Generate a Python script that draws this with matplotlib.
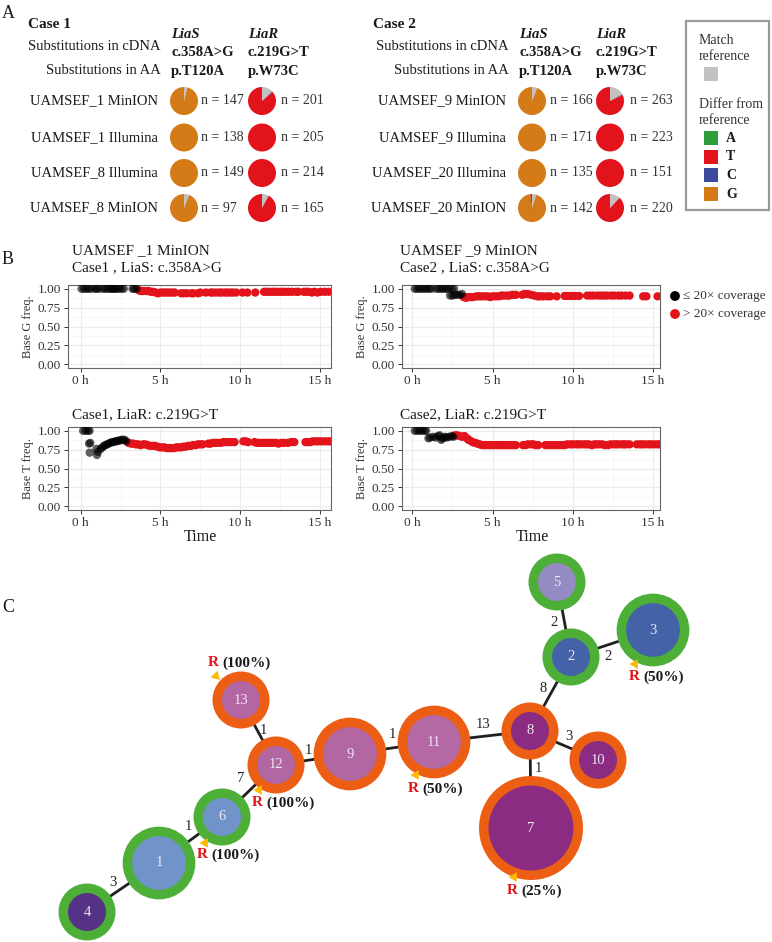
import matplotlib.pyplot as plt
from matplotlib.patches import Circle, Rectangle
import numpy as np

plt.rcParams['font.family'] = ['Liberation Serif', 'DejaVu Serif']

W, H = 772, 942

# ---------------- panel A data ----------------
base_order = ["Match reference", "A", "C", "G", "T"]
base_colors = {"Match reference": "#C4C2C0", "A": "#2E9E3A", "C": "#3D4A9A",
               "G": "#D47A16", "T": "#E3131B"}

case1_samples = ["UAMSEF_1 MinION", "UAMSEF_1 Illumina", "UAMSEF_8 Illumina", "UAMSEF_8 MinION"]
case1_lias = [[0.04, 0, 0, 0.96, 0], [0, 0, 0, 1, 0], [0, 0, 0, 1, 0], [0.06, 0, 0, 0.94, 0]]
case1_liar = [[0.13, 0, 0.01, 0, 0.86], [0, 0, 0, 0, 1], [0, 0, 0, 0, 1], [0.08, 0, 0, 0, 0.92]]
case1_lias_n = [147, 138, 149, 97]
case1_liar_n = [201, 205, 214, 165]

case2_samples = ["UAMSEF_9 MinION", "UAMSEF_9 Illumina", "UAMSEF_20 Illumina", "UAMSEF_20 MinION"]
case2_lias = [[0.06, 0, 0, 0.94, 0], [0, 0, 0, 1, 0], [0, 0, 0, 1, 0], [0.05, 0, 0, 0.93, 0.02]]
case2_liar = [[0.17, 0, 0.01, 0, 0.82], [0, 0, 0, 0, 1], [0, 0, 0, 0, 1], [0.12, 0, 0, 0, 0.88]]
case2_lias_n = [166, 171, 135, 142]
case2_liar_n = [263, 223, 151, 220]

# ---------------- panel B data ----------------
# Case 1, LiaS (UAMSEF_1 MinION)
c1s_low_t = [0.05, 0.2, 0.35, 0.5, 0.65, 0.9, 1.0, 1.15, 1.4, 1.55, 1.7, 1.85, 1.95, 2.05,
             2.15, 2.25, 2.4, 2.55, 2.7, 3.25, 3.35, 3.5]
c1s_low_f = [1.0] * 22
c1s_high_t = [3.65, 3.75, 3.9, 4.1, 4.25, 4.4, 4.55, 4.7, 4.85, 5.0, 5.15, 5.3, 5.45, 5.6, 5.75,
              5.9, 6.3, 6.45, 6.65, 6.95, 7.05, 7.35, 7.5, 7.85, 8.15, 8.3, 8.5, 8.7, 8.85, 9.05,
              9.2, 9.4, 9.55, 9.75, 10.15, 10.45, 10.95, 11.5, 11.65, 11.8, 12.0, 12.15, 12.3,
              12.5, 12.65, 12.85, 13.05, 13.25, 13.5, 13.65, 14.0, 14.15, 14.3, 14.5, 14.65,
              14.85, 15.05, 15.3, 15.55]
c1s_high_f = [0.98, 0.97, 0.97, 0.97, 0.97, 0.96, 0.96, 0.95, 0.94, 0.95, 0.95, 0.95, 0.95, 0.95,
              0.95, 0.95, 0.94, 0.94, 0.94, 0.94, 0.94, 0.94, 0.95, 0.95, 0.95, 0.95, 0.95, 0.95,
              0.95, 0.95, 0.95, 0.95, 0.95, 0.95, 0.95, 0.95, 0.95, 0.96, 0.96, 0.96, 0.96, 0.96,
              0.96, 0.96, 0.96, 0.96, 0.96, 0.96, 0.96, 0.96, 0.96, 0.96, 0.96, 0.95, 0.96, 0.95,
              0.96, 0.96, 0.96]

# Case 2, LiaS (UAMSEF_9 MinION)
c2s_low_t = [0.15, 0.3, 0.45, 0.6, 0.75, 0.9, 1.05, 1.2, 1.5, 1.65, 1.8, 1.95, 2.1, 2.25, 2.45,
             2.6, 2.35, 2.5, 2.65, 2.8, 2.95, 3.1]
c2s_low_f = [1.0, 1.0, 1.0, 1.0, 1.0, 1.0, 1.0, 1.0, 1.0, 1.0, 1.0, 1.0, 1.0, 1.0, 1.0, 1.0,
             0.91, 0.91, 0.92, 0.92, 0.92, 0.93]
c2s_high_t = [3.2, 3.35, 3.5, 3.65, 3.8, 4.0, 4.15, 4.3, 4.5, 4.7, 4.85, 5.0, 5.2, 5.4, 5.55,
              5.7, 5.9, 6.05, 6.25, 6.45, 6.85, 7.0, 7.2, 7.4, 7.6, 7.8, 7.95, 8.15, 8.4, 8.6,
              9.0, 9.5, 9.7, 9.9, 10.15, 10.4, 10.9, 11.1, 11.3, 11.55, 11.75, 11.95, 12.15,
              12.4, 12.6, 12.85, 13.05, 13.3, 13.55, 14.4, 14.6, 15.3]
c2s_high_f = [0.89, 0.88, 0.89, 0.89, 0.89, 0.90, 0.90, 0.90, 0.90, 0.90, 0.89, 0.90, 0.90, 0.90,
              0.91, 0.91, 0.91, 0.91, 0.92, 0.92, 0.92, 0.93, 0.93, 0.92, 0.91, 0.90, 0.90, 0.90,
              0.90, 0.90, 0.90, 0.905, 0.905, 0.905, 0.905, 0.905, 0.91, 0.91, 0.91, 0.91, 0.91,
              0.91, 0.91, 0.91, 0.91, 0.91, 0.91, 0.91, 0.91, 0.90, 0.90, 0.90]

# Case 1, LiaR
c1r_low_t = [0.15, 0.3, 0.45, 0.55, 0.52, 0.6, 0.56, 0.98, 1.02, 1.08, 1.25, 1.35, 1.45, 1.55,
             1.65, 1.75, 1.85, 1.95, 2.05, 2.15, 2.25, 2.35, 2.45, 2.55, 2.65, 2.75, 2.85]
c1r_low_f = [1.0, 1.0, 1.0, 1.0, 0.83, 0.84, 0.71, 0.76, 0.68, 0.72, 0.76, 0.78, 0.80, 0.81,
             0.82, 0.83, 0.84, 0.85, 0.85, 0.86, 0.86, 0.87, 0.87, 0.88, 0.88, 0.88, 0.86]
c1r_high_t = [3.0, 3.15, 3.3, 3.45, 3.6, 3.75, 3.9, 4.05, 4.2, 4.35, 4.5, 4.65, 4.8, 4.95, 5.1,
              5.25, 5.4, 5.55, 5.7, 5.85, 6.0, 6.15, 6.3, 6.45, 6.6, 6.75, 6.9, 7.05, 7.2, 7.35,
              7.5, 7.65, 8.0, 8.15, 8.3, 8.45, 8.6, 8.8, 8.95, 9.1, 9.3, 9.45, 9.65, 10.2, 10.35,
              10.5, 10.9, 11.05, 11.2, 11.4, 11.55, 11.7, 11.9, 12.05, 12.25, 12.4, 12.6, 12.75,
              13.0, 13.2, 13.4, 14.1, 14.25, 14.4, 14.55, 14.75, 14.9, 15.1, 15.3, 15.5, 15.65]
c1r_high_f = [0.84, 0.83, 0.83, 0.82, 0.82, 0.81, 0.82, 0.82, 0.81, 0.80, 0.80, 0.80, 0.79, 0.78,
              0.78, 0.78, 0.77, 0.77, 0.77, 0.77, 0.78, 0.78, 0.78, 0.79, 0.79, 0.80, 0.80, 0.81,
              0.81, 0.82, 0.82, 0.82, 0.83, 0.83, 0.84, 0.84, 0.84, 0.84, 0.85, 0.85, 0.85, 0.85,
              0.85, 0.86, 0.86, 0.85, 0.85, 0.84, 0.84, 0.84, 0.84, 0.84, 0.84, 0.84, 0.84, 0.83,
              0.84, 0.84, 0.84, 0.85, 0.85, 0.85, 0.85, 0.85, 0.86, 0.86, 0.86, 0.86, 0.86, 0.86,
              0.86]

# Case 2, LiaR
c2r_low_t = [0.15, 0.3, 0.45, 0.6, 0.75, 0.85, 1.0, 1.1, 1.3, 1.45, 1.6, 1.7, 1.8, 1.85, 1.95,
             2.05, 2.15, 2.3, 2.45, 2.55]
c2r_low_f = [1.0, 1.0, 1.0, 1.0, 1.0, 1.0, 0.90, 0.91, 0.92, 0.91, 0.93, 0.94, 0.88, 0.90, 0.91,
             0.92, 0.91, 0.92, 0.93, 0.92]
c2r_high_t = [2.65, 2.8, 2.95, 3.1, 3.25, 3.4, 3.5, 3.6, 3.75, 3.9, 4.05, 4.2, 4.35, 4.5, 4.65,
              4.8, 4.95, 5.1, 5.25, 5.4, 5.55, 5.7, 5.85, 6.0, 6.15, 6.3, 6.45, 6.9, 7.05, 7.2,
              7.4, 7.55, 7.7, 7.85, 8.3, 8.45, 8.6, 8.8, 9.0, 9.15, 9.35, 9.5, 9.65, 9.85, 10.0,
              10.2, 10.35, 10.5, 10.7, 10.85, 11.0, 11.2, 11.35, 11.5, 11.65, 11.85, 12.0, 12.2,
              12.35, 12.55, 12.7, 12.85, 13.05, 13.2, 13.35, 13.55, 14.0, 14.2, 14.35, 14.55,
              14.75, 14.9, 15.1, 15.3, 15.45]
c2r_high_f = [0.94, 0.94, 0.93, 0.92, 0.93, 0.90, 0.88, 0.87, 0.85, 0.84, 0.83, 0.82, 0.81, 0.81,
              0.81, 0.81, 0.81, 0.81, 0.81, 0.81, 0.81, 0.81, 0.81, 0.81, 0.81, 0.81, 0.81, 0.81,
              0.81, 0.82, 0.82, 0.82, 0.81, 0.81, 0.81, 0.81, 0.81, 0.81, 0.81, 0.81, 0.81, 0.81,
              0.82, 0.82, 0.82, 0.82, 0.82, 0.82, 0.82, 0.82, 0.82, 0.81, 0.82, 0.82, 0.82, 0.82,
              0.81, 0.81, 0.82, 0.82, 0.82, 0.82, 0.82, 0.82, 0.82, 0.82, 0.82, 0.82, 0.82, 0.82,
              0.82, 0.82, 0.82, 0.82, 0.82]

# ---------------- panel C data ----------------
node_ids = [1, 2, 3, 4, 5, 6, 7, 8, 9, 10, 11, 12, 13]
node_counts = [2, 1, 2, 1, 1, 1, 5, 1, 2, 1, 2, 1, 1]
node_group = ["A", "A", "A", "A", "A", "A", "B", "B", "B", "B", "B", "B", "B"]
node_fill = ["#7094CA", "#4462A8", "#4462A8", "#553286", "#938BC1", "#7094CA", "#8B2B82",
             "#8B2B82", "#B266A2", "#8B2B82", "#B468A4", "#B266A2", "#B266A2"]
edges = [(4, 1, 3), (1, 6, 1), (6, 12, 7), (12, 13, 1), (12, 9, 1), (9, 11, 1), (11, 8, 13),
         (8, 2, 8), (2, 5, 2), (2, 3, 2), (8, 10, 3), (8, 7, 1)]
resistant_nodes = [13, 12, 6, 3, 11, 7]
resistant_pct = ["(100%)", "(100%)", "(100%)", "(50%)", "(50%)", "(25%)"]

# layout (pixels)
node_xy = {1: (159, 863), 2: (571, 657), 3: (653, 630), 4: (87, 912), 5: (557, 582),
           6: (222, 817), 7: (531, 828), 8: (530, 731), 9: (350, 754), 10: (598, 760),
           11: (434, 742), 12: (276, 765), 13: (241, 700)}
edge_label_xy = [(113, 883), (188, 827), (241, 779), (263, 730), (308, 751), (392, 735),
                 (483, 725), (543, 688), (554, 623), (608, 657), (569, 736), (538, 769)]
r_label_xy = [(208, 663), (252, 803), (197, 855), (629, 677), (408, 789), (507, 891)]
tri_xy = [(216, 676), (259, 790), (205, 843), (635, 664), (416, 775), (514, 877)]
ring_colors = {"A": "#4DAF37", "B": "#EB5E14"}

fig = plt.figure(figsize=(W / 100, H / 100), dpi=100)
ax0 = fig.add_axes([0, 0, 1, 1])
ax0.set_zorder(0)

TXT = "#1A1A1A"
FA = 10.5

# ---------------- panel A ----------------
ax0.text(2, 13, "A", fontsize=13, va="center", color=TXT)


def draw_pie(cx, cy, r, fracs):
    vals = [f for f in fracs if f > 0]
    cols = [base_colors[b] for b, f in zip(base_order, fracs) if f > 0]
    ax0.pie(vals, colors=cols, center=(cx, cy), radius=r, startangle=-90,
            counterclock=True, frame=True, wedgeprops=dict(linewidth=0))


def case_block(x0, label_right, pie_s, pie_r, n_s, n_r, title, samples, lias, liar, lias_n, liar_n):
    ax0.text(x0, 24, title, fontsize=11, fontweight="bold", va="center", color=TXT)
    ax0.text(pie_s - 13, 34, "LiaS", fontsize=FA, fontweight="bold", style="italic",
             va="center", color=TXT)
    ax0.text(pie_r - 14, 34, "LiaR", fontsize=FA, fontweight="bold", style="italic",
             va="center", color=TXT)
    ax0.text(label_right + 3, 47, "Substitutions in cDNA", fontsize=FA, ha="right",
             va="center", color=TXT)
    ax0.text(pie_s - 13, 52, "c.358A>G", fontsize=FA, fontweight="bold", va="center", color=TXT)
    ax0.text(pie_r - 14, 52, "c.219G>T", fontsize=FA, fontweight="bold", va="center", color=TXT)
    ax0.text(label_right + 3, 71, "Substitutions in AA", fontsize=FA, ha="right",
             va="center", color=TXT)
    ax0.text(pie_s - 13, 71, "p.T120A", fontsize=FA, fontweight="bold", va="center", color=TXT)
    ax0.text(pie_r - 14, 71, "p.W73C", fontsize=FA, fontweight="bold", va="center", color=TXT)
    row_y = [101, 137.5, 173, 208]
    for i, y in enumerate(row_y):
        ax0.text(label_right, y, samples[i], fontsize=FA, ha="right", va="center", color=TXT)
        draw_pie(pie_s, y, 14, lias[i])
        draw_pie(pie_r, y, 14, liar[i])
        ax0.text(n_s, y, "n = %d" % lias_n[i], fontsize=10, va="center", color="#333333")
        ax0.text(n_r, y, "n = %d" % liar_n[i], fontsize=10, va="center", color="#333333")


case_block(28, 158, 184, 262, 201, 281, "Case 1", case1_samples, case1_lias, case1_liar,
           case1_lias_n, case1_liar_n)
case_block(373, 506, 532, 610, 550, 630, "Case 2", case2_samples, case2_lias, case2_liar,
           case2_lias_n, case2_liar_n)

# legend box
ax0.add_patch(Rectangle((686, 21), 83, 189, fill=False, ec="#999999", lw=1.6))
ax0.text(699, 40, "Match", fontsize=10, va="center", color="#333333")
ax0.text(699, 56, "reference", fontsize=10, va="center", color="#333333")
ax0.add_patch(Rectangle((704, 67), 14, 14, fc=base_colors["Match reference"], ec="none"))
ax0.text(699, 105, "Differ from", fontsize=10, va="center", color="#333333")
ax0.text(699, 121, "reference", fontsize=10, va="center", color="#333333")
for i, b in enumerate(["A", "T", "C", "G"]):
    y = 131 + i * 18.7
    ax0.add_patch(Rectangle((704, y), 14, 14, fc=base_colors[b], ec="none"))
    ax0.text(726, y + 7, b, fontsize=10, fontweight="bold", va="center", color=TXT)

# ---------------- panel B ----------------
ax0.text(2, 260, "B", fontsize=13, va="center", color=TXT)


def px_axes(x1, x2, y1, y2):
    return fig.add_axes([x1 / W, 1 - y2 / H, (x2 - x1) / W, (y2 - y1) / H])


def style_b(ax, xlim, ylab):
    ax.set_xlim(xlim)
    ax.set_ylim(-0.05, 1.05)
    ax.set_xticks([0, 5, 10, 15])
    ax.set_xticklabels(["0 h", "5 h", "10 h", "15 h"])
    ax.set_xticks([2.5, 7.5, 12.5], minor=True)
    ax.set_yticks([0, 0.25, 0.5, 0.75, 1.0])
    ax.set_yticklabels(["0.00", "0.25", "0.50", "0.75", "1.00"])
    ax.set_yticks([0.125, 0.375, 0.625, 0.875], minor=True)
    ax.grid(which="major", color="#EBEBEB", lw=0.9)
    ax.grid(which="minor", color="#F5F5F5", lw=0.6)
    ax.set_axisbelow(True)
    ax.tick_params(which="minor", length=0)
    ax.tick_params(which="major", length=3, width=0.7, color="#333333", labelsize=9.5,
                   labelcolor="#333333", pad=2)
    for sp in ax.spines.values():
        sp.set_color("#666666")
        sp.set_linewidth(0.8)
    ax.set_ylabel(ylab, fontsize=9, color="#333333", labelpad=3)


panels = [
    ((68, 331, 285, 368), (-0.8, 15.7), "Base G freq.", c1s_low_t, c1s_low_f, c1s_high_t, c1s_high_f),
    ((402, 660, 285, 368), (-0.65, 15.45), "Base G freq.", c2s_low_t, c2s_low_f, c2s_high_t, c2s_high_f),
    ((68, 331, 427, 510), (-0.8, 15.7), "Base T freq.", c1r_low_t, c1r_low_f, c1r_high_t, c1r_high_f),
    ((402, 660, 427, 510), (-0.65, 15.45), "Base T freq.", c2r_low_t, c2r_low_f, c2r_high_t, c2r_high_f),
]
for box, xl, ylab, lt, lf, ht, hf in panels:
    ax = px_axes(*box)
    style_b(ax, xl, ylab)
    ax.scatter(ht, hf, s=36, color="#E3131B", edgecolors="none", zorder=3)
    ax.scatter(lt, lf, s=36, color="black", alpha=0.62, edgecolors="none", zorder=4)

ax0.text(72, 251, "UAMSEF _1 MinION", fontsize=11, va="center", color=TXT)
ax0.text(72, 268, "Case1 , LiaS: c.358A>G", fontsize=11, va="center", color=TXT)
ax0.text(400, 251, "UAMSEF _9 MinION", fontsize=11, va="center", color=TXT)
ax0.text(400, 268, "Case2 , LiaS: c.358A>G", fontsize=11, va="center", color=TXT)
ax0.text(72, 415, "Case1, LiaR: c.219G>T", fontsize=11, va="center", color=TXT)
ax0.text(400, 415, "Case2, LiaR: c.219G>T", fontsize=11, va="center", color=TXT)
ax0.text(200, 537, "Time", fontsize=11.5, ha="center", va="center", color=TXT)
ax0.text(532, 537, "Time", fontsize=11.5, ha="center", va="center", color=TXT)

ax0.scatter([675], [296], s=50, color="black", edgecolors="none")
ax0.scatter([675], [314], s=50, color="#E3131B", edgecolors="none")
ax0.text(683, 296, "≤ 20× coverage", fontsize=9.5, va="center", color="#333333")
ax0.text(683, 314, "> 20× coverage", fontsize=9.5, va="center", color="#333333")

# ---------------- panel C ----------------
ax0.text(2, 607, "C", fontsize=13, va="center", color=TXT)

for (a, b, w), (lx, ly) in zip(edges, edge_label_xy):
    (x1, y1), (x2, y2) = node_xy[a], node_xy[b]
    ax0.plot([x1, x2], [y1, y2], color="#231F20", lw=2.0, zorder=1, solid_capstyle="butt")
    ax0.text(lx, ly, str(w), fontsize=10.5, ha="center", va="center", color="#222222")

for nid, cnt, grp, col in zip(node_ids, node_counts, node_group, node_fill):
    x, y = node_xy[nid]
    r_in = 19 * np.sqrt(cnt)
    r_out = r_in + 9.5
    ax0.add_patch(Circle((x, y), r_out, fc=ring_colors[grp], ec="none", zorder=2))
    ax0.add_patch(Circle((x, y), r_in, fc=col, ec="none", zorder=3))
    ax0.text(x, y, str(nid), fontsize=10.5, ha="center", va="center", color="#EEE6F0", zorder=4)

for k, (nid, pct) in enumerate(zip(resistant_nodes, resistant_pct)):
    rx, ry = r_label_xy[k]
    ax0.text(rx, ry, "R", fontsize=11, fontweight="bold", va="center", color="#E3131B", zorder=5)
    ax0.text(rx + 14.5, ry, pct, fontsize=11, fontweight="bold", va="center", color=TXT, zorder=5)
    tx, ty = tri_xy[k]
    rot = -135 if k == 0 else 90
    ax0.scatter([tx], [ty], s=65, marker=(3, 0, rot), color="#FBB900", edgecolors="none", zorder=5)

ax0.set_xlim(0, W)
ax0.set_ylim(H, 0)
ax0.set_aspect("auto")
ax0.axis("off")

fig.savefig("out.png", dpi=100)
